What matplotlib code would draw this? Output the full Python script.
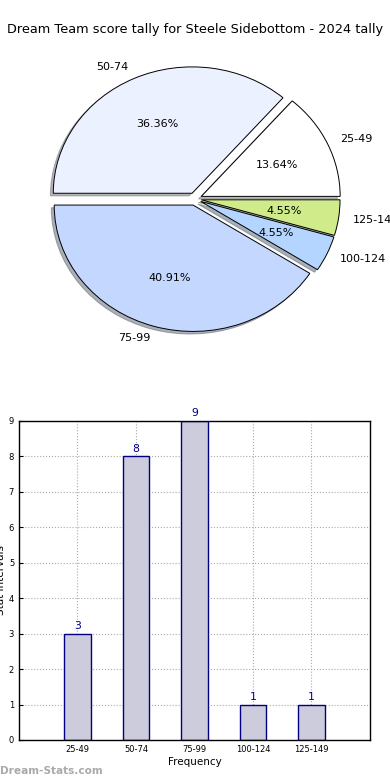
import matplotlib
matplotlib.use("Agg")
import matplotlib.pyplot as plt

categories = ["25-49", "50-74", "75-99", "100-124", "125-149"]
counts = [3, 8, 9, 1, 1]
pie_colors = ["#ffffff", "#ebf1ff", "#c4d8ff", "#b4d5ff", "#cfeb8a"]
explode = [0.05, 0.05, 0.05, 0.045, 0.045]
title = "Dream Team score tally for Steele Sidebottom - 2024 tally"

fig = plt.figure(figsize=(3.9, 7.8), dpi=100)
fig.text(0.5, 1 - 30 / 780, title, ha="center", va="center", fontsize=9.3)

w, h = 0.89, 0.405
cx, cy = 195 / 390, 1 - 199 / 780
axp = fig.add_axes([cx - w / 2, cy - h / 2, w, h])
wedges, texts, autotexts = axp.pie(
    counts, labels=categories, colors=pie_colors, explode=explode,
    autopct="%.2f%%", shadow={"ox": -0.015, "oy": -0.015, "shade": 0.55},
    startangle=0, counterclock=True,
    wedgeprops=dict(edgecolor="black", linewidth=0.7),
    textprops=dict(fontsize=8), labeldistance=1.1, pctdistance=0.6)
axp.set_aspect("auto")
axp.set_xlim(-1.25, 1.25)
axp.set_ylim(-1.25, 1.25)

axb = fig.add_axes([0.0487, 0.0513, 0.9, 0.409])
x = list(range(len(categories)))
bars = axb.bar(x, counts, width=0.45, color="#ccccdd", edgecolor="#000080", linewidth=1.0, zorder=2)
for xi, c in zip(x, counts):
    axb.text(xi, c + 0.08, str(c), ha="center", va="bottom", color="#00008b", fontsize=7.8)
axb.set_xlim(-1, len(categories))
axb.set_ylim(0, 9)
axb.set_yticks(range(10))
axb.set_xticks(x)
axb.set_xticklabels(categories)
axb.tick_params(labelsize=6, length=3, direction="in")
axb.grid(True, linestyle=":", color="#aaaaaa", linewidth=0.8, zorder=0)
axb.set_axisbelow(True)
axb.set_xlabel("Frequency", fontsize=7.5, labelpad=2)
axb.set_ylabel("Stat Intervals", fontsize=7.5, labelpad=2)
for s in axb.spines.values():
    s.set_linewidth(1.0)

fig.text(0.0, 9 / 780, "Dream-Stats.com", ha="left", va="center", fontsize=7.6,
         color="#aaaaaa", fontweight="bold")

fig.savefig("out.png", dpi=100)
